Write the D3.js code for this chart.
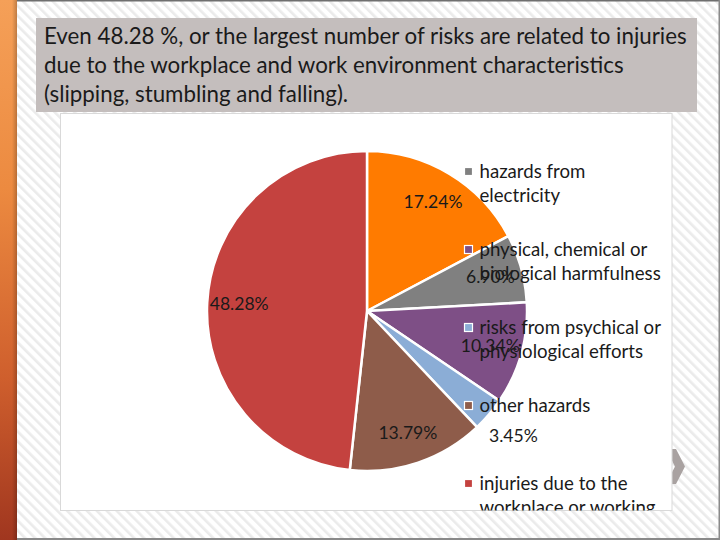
<!DOCTYPE html>
<html><head><meta charset="utf-8">
<script src="https://cdn.jsdelivr.net/npm/d3@7"></script>
<style>html,body{margin:0;padding:0;background:#fff;overflow:hidden;} svg{display:block;}</style>
</head><body>
<script>
// ---- data ----
const titleLines = [
  "Even 48.28 %, or the largest number of risks are related to injuries",
  "due to the workplace and work environment characteristics",
  "(slipping, stumbling and falling)."
];
const categories = [
  "mechanical hazards",
  "hazards from electricity",
  "physical, chemical or biological harmfulness",
  "risks from psychical or physiological efforts",
  "other hazards",
  "injuries due to the workplace or working environment characteristics"
];
const legendLines = [
  ["mechanical hazards"],
  ["hazards from", "electricity"],
  ["physical, chemical or", "biological harmfulness"],
  ["risks from psychical or", "physiological efforts"],
  ["other hazards"],
  ["injuries due to the", "workplace or working", "environment characteristics"]
];
const percentages = [17.24, 6.90, 10.34, 3.45, 13.79, 48.28];
const colors = ["#ff7b00", "#808080", "#7e4f86", "#8badd6", "#8e5c4a", "#c4423f"];

// ---- layout ----
const W = 720, H = 540;
const FONT = "Lato, 'Open Sans', sans-serif";
const svg = d3.select("body").append("svg").attr("width", W).attr("height", H);
const defs = svg.append("defs");

function fitSize(text, target) {
  const t = svg.append("text").attr("font-family", FONT).attr("font-size", 100).text(text);
  const w = t.node().getComputedTextLength();
  t.remove();
  return 100 * target / w;
}

// stripes pattern
const pat = defs.append("pattern").attr("id", "stripes").attr("patternUnits", "userSpaceOnUse")
  .attr("width", 7).attr("height", 7).attr("patternTransform", "rotate(-45)");
pat.append("rect").attr("width", 7).attr("height", 7).attr("fill", "#ffffff");
pat.append("rect").attr("x", 0).attr("width", 2.6).attr("height", 7).attr("fill", "#ebebeb");

// orange bar gradients
const gv = defs.append("linearGradient").attr("id", "barV").attr("x1", 0).attr("y1", 0).attr("x2", 0).attr("y2", 1);
[[0, "#f5a058"], [0.35, "#ec8a40"], [0.7, "#cf5f2d"], [1, "#a0361f"]].forEach(([o, c]) =>
  gv.append("stop").attr("offset", o).attr("stop-color", c));
const gh = defs.append("linearGradient").attr("id", "barH").attr("x1", 0).attr("y1", 0).attr("x2", 1).attr("y2", 0);
[[0, "rgba(0,0,0,0)", 0], [0.7, "rgba(0,0,0,0)", 0], [1, "#000", 0.22]].forEach(([o, c, a]) =>
  gh.append("stop").attr("offset", o).attr("stop-color", "#000").attr("stop-opacity", a));

// background
svg.append("rect").attr("width", W).attr("height", H).attr("fill", "url(#stripes)");
svg.append("rect").attr("x", 0).attr("y", 0).attr("width", 17).attr("height", H).attr("fill", "url(#barV)");
svg.append("rect").attr("x", 0).attr("y", 0).attr("width", 17).attr("height", H).attr("fill", "url(#barH)");
// frame lines
svg.append("rect").attr("x", 17).attr("y", 0).attr("width", W - 17).attr("height", 1.5).attr("fill", "#6f6f6f");
svg.append("rect").attr("x", W - 1.5).attr("y", 0).attr("width", 1.5).attr("height", H).attr("fill", "#8a8a8a");
svg.append("rect").attr("x", 17).attr("y", H - 2).attr("width", W - 17).attr("height", 2).attr("fill", "#8a8a8a");

// chevron (slide navigation decoration)
svg.append("polygon").attr("points", "666,449 676,449 685,466.5 676,484 666,484 675,466.5").attr("fill", "#a9a2a1");

// title box
svg.append("rect").attr("x", 36).attr("y", 18).attr("width", 661).attr("height", 94).attr("fill", "#c4bebd");
const titleSize = fitSize(titleLines[0], 643);
svg.append("g").selectAll("text").data(titleLines).join("text")
  .attr("x", 44).attr("y", (d, i) => 44 + i * 29)
  .attr("font-family", FONT).attr("font-size", titleSize).attr("fill", "#1a1a1a")
  .text(d => d);

// chart box
const box = {x: 60.5, y: 113.5, w: 611.5, h: 397};
svg.append("rect").attr("x", box.x).attr("y", box.y).attr("width", box.w).attr("height", box.h)
  .attr("fill", "#fff").attr("stroke", "#d9d9d9").attr("stroke-width", 1);
defs.append("clipPath").attr("id", "boxclip").append("rect")
  .attr("x", box.x).attr("y", box.y).attr("width", box.w).attr("height", box.h);

const chart = svg.append("g").attr("clip-path", "url(#boxclip)");

// pie
const cx = 367, cy = 311, R = 160;
const data = percentages.map((v, i) => ({v, i, name: categories[i]}));
const pie = d3.pie().value(d => d.v).sort(null).startAngle(0).endAngle(2 * Math.PI);
const arcs = pie(data);
const arc = d3.arc().innerRadius(0).outerRadius(R);
const pg = chart.append("g").attr("transform", `translate(${cx},${cy})`);
pg.selectAll("path").data(arcs).join("path")
  .attr("d", arc).attr("fill", d => colors[d.data.i])
  .attr("stroke", "#fff").attr("stroke-width", 2.5).attr("stroke-linejoin", "round");

// legend
const legSize = fitSize("hazards from", 106);
const legY = i => 93.5 + i * 78;
const lg = chart.append("g");
const items = lg.selectAll("g").data(legendLines).join("g")
  .attr("transform", (d, i) => `translate(0,${legY(i)})`);
items.append("rect").attr("x", 464.5).attr("y", -4).attr("width", 8).attr("height", 8)
  .attr("fill", (d, i) => colors[i]).attr("stroke", "#fff").attr("stroke-width", 1.2);
items.each(function (lines) {
  d3.select(this).selectAll("text").data(lines).join("text")
    .attr("x", 479.5).attr("y", (d, j) => 6.5 + j * 24)
    .attr("font-family", FONT).attr("font-size", legSize).attr("fill", "#1a1a1a")
    .text(d => d);
});

// data labels
const labSize = fitSize("17.24%", 59);
const labelArcIn = d3.arc().innerRadius(R * 0.8).outerRadius(R * 0.8);
const labelArcOut = d3.arc().innerRadius(R * 1.2).outerRadius(R * 1.2);
pg.selectAll("text.lab").data(arcs).join("text").attr("class", "lab")
  .attr("transform", d => `translate(${(d.data.v < 5 ? labelArcOut : labelArcIn).centroid(d)})`)
  .attr("text-anchor", "middle").attr("dy", "0.36em")
  .attr("font-family", FONT).attr("font-size", labSize).attr("fill", "#1a1a1a")
  .text(d => d.data.v.toFixed(2) + "%");
</script>
</body></html>
